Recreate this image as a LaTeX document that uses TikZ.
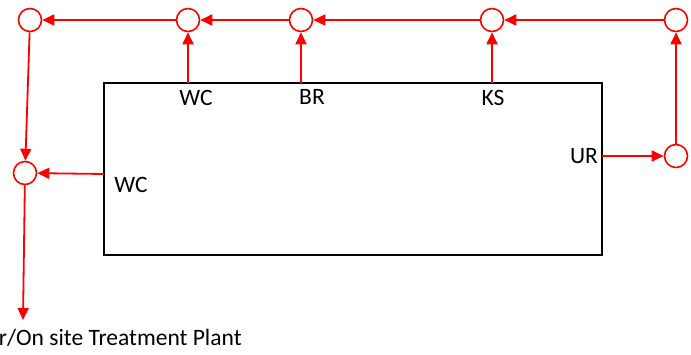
\documentclass[tikz,border=0pt]{standalone}
\usepackage{fontspec}
\setmainfont{Carlito}
\usetikzlibrary{arrows.meta}
\begin{document}
\begin{tikzpicture}[x=1pt, y=-1pt, line width=1.8pt,
  junc/.style = {draw=red, circle, minimum size=23pt, inner sep=0pt, line width=1.6pt},
  flow/.style = {draw=red, -{Triangle[length=12pt, width=11pt]}},
  lbl/.style = {font=\fontsize{23.5}{28}\selectfont, inner sep=0pt}]
\useasboundingbox (0,0) rectangle (691,355);
\node[draw, line width=1.4pt, minimum width=498pt, minimum height=172pt, inner sep=0pt] (house) at (353,169) {};
\node[junc] (1) at (30,20) {};
\node[junc] (2) at (188,20) {};
\node[junc] (3) at (301,20) {};
\node[junc] (4) at (492,20) {};
\node[junc] (5) at (676,20) {};
\node[junc] (6) at (676,156) {};
\node[junc] (7) at (25,173) {};
\coordinate (wc1) at (188,83);
\coordinate (br) at (301,83);
\coordinate (ks) at (492,83);
\coordinate (ur) at (602,156);
\coordinate (wc2) at (104,174);
\coordinate (out) at (23,320);
\node[lbl] (l1) at (196,98) {WC};
\node[lbl] (l2) at (312,97) {BR};
\node[lbl] (l3) at (493,98) {KS};
\node[lbl] (l4) at (584,156) {UR};
\node[lbl] (l5) at (131,185) {WC};
\node[lbl, anchor=base west] (l6) at (-2,346) {r/On site Treatment Plant};
\draw[flow] (wc1) -- (2);
\draw[flow] (br) -- (3);
\draw[flow] (ks) -- (4);
\draw[flow] (ur) -- (6);
\draw[flow] (6) -- (5);
\draw[flow] (5) -- (4);
\draw[flow] (4) -- (3);
\draw[flow] (3) -- (2);
\draw[flow] (2) -- (1);
\draw[flow] (1) -- (7);
\draw[flow] (wc2) -- (7);
\draw[flow] (7) -- (out);
\end{tikzpicture}
\end{document}
